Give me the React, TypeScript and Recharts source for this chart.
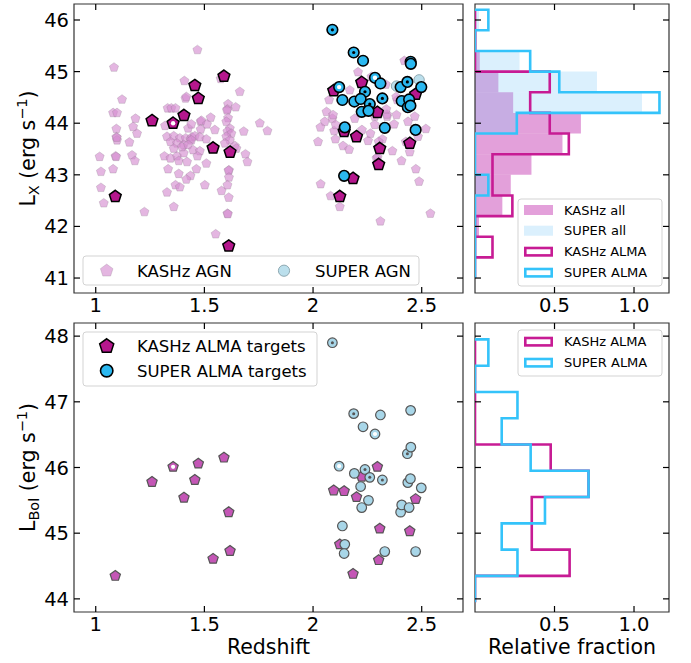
import React from "react";
import { ScatterChart, Scatter, XAxis, YAxis, ReferenceArea } from "recharts";

const FONT = "'DejaVu Sans', Verdana, sans-serif";
const INK = "#000";
const SPINE = "#333";

// axis ticks
const zTicks = [1, 1.5, 2, 2.5];
const lxTicks = [41, 42, 43, 44, 45, 46];
const lbolTicks = [44, 45, 46, 47, 48];
const fracTicks = [0.5, 1.0];

// KASHz AGN parent sample: [redshift, log LX]
const kashzAgn: [number, number][] = [
  [1.084, 45.08], [1.121, 44.46], [1.08, 44.2], [1.098, 44.2], [1.183, 44.09], [1.095, 43.89],
  [1.172, 43.93], [1.19, 43.8], [1.095, 43.73], [1.155, 43.63], [1.098, 43.67], [1.097, 43.72],
  [1.319, 43.95], [1.408, 44.82], [1.413, 44.48], [1.331, 44.29], [1.348, 44.29], [1.367, 44.29],
  [1.328, 43.74], [1.359, 43.75], [1.387, 43.71], [1.414, 43.71], [1.436, 43.69], [1.344, 43.64],
  [1.374, 43.61], [1.405, 43.58], [1.425, 43.9], [1.443, 43.73],
  [1.018, 43.35], [1.091, 43.36], [1.094, 43.35], [1.167, 43.38], [1.18, 43.27], [1.024, 43.06],
  [1.08, 43.11], [1.024, 42.75], [1.037, 42.45], [1.224, 42.28],
  [1.316, 43.36], [1.344, 43.32], [1.374, 43.36], [1.405, 43.42], [1.382, 43.27], [1.42, 43.25],
  [1.359, 43.51], [1.397, 43.54], [1.333, 43.11], [1.382, 43.02], [1.436, 42.98], [1.417, 42.91],
  [1.367, 42.8], [1.387, 42.76], [1.328, 42.66], [1.359, 42.38],
  [1.468, 45.42], [1.575, 44.86], [1.663, 44.61], [1.417, 44.51], [1.609, 44.37], [1.644, 44.31],
  [1.606, 44.27], [1.604, 44.25], [1.529, 44.11], [1.483, 44.03], [1.486, 44.05], [1.483, 43.88],
  [1.44, 43.98], [1.512, 43.98], [1.609, 44.1], [1.601, 44.03], [1.755, 44.0], [1.79, 43.85],
  [1.681, 43.84], [1.617, 43.9], [1.606, 43.84], [1.624, 43.8], [1.601, 43.74], [1.617, 43.67],
  [1.548, 43.87], [1.456, 43.75], [1.479, 43.73], [1.44, 43.67], [1.509, 43.69], [1.64, 43.56],
  [1.425, 43.58], [1.448, 43.48], [1.479, 43.46], [1.468, 43.36], [1.509, 43.22], [1.463, 43.11],
  [1.502, 42.8], [1.647, 43.51], [1.689, 43.4], [1.698, 43.25], [1.613, 43.09], [1.611, 43.08],
  [1.613, 42.95], [1.606, 42.8], [1.579, 42.69], [1.612, 42.56], [1.606, 42.25], [1.608, 42.24],
  [1.552, 41.85], [1.594, 43.61],
  [2.054, 44.03], [2.034, 43.92], [2.089, 44.09], [2.097, 43.85], [2.104, 43.97], [2.023, 43.64],
  [2.103, 43.69], [2.138, 43.56], [2.166, 43.49], [2.192, 44.09], [2.225, 43.87], [2.253, 43.66],
  [2.264, 43.8], [2.284, 43.97], [2.319, 43.69], [2.302, 43.64], [2.341, 44.13], [2.373, 43.98],
  [2.365, 43.46], [2.292, 43.32], [2.297, 43.34], [2.407, 43.27], [2.427, 43.64], [2.445, 43.44],
  [2.437, 44.03], [2.468, 44.13], [2.519, 43.89], [2.483, 43.74], [2.473, 43.11], [2.488, 42.87],
  [2.035, 42.82], [2.081, 42.59], [2.123, 42.38], [2.31, 42.1], [2.54, 42.25],
  [2.207, 44.99], [2.169, 44.64], [2.062, 44.22], [2.092, 44.16], [2.34, 44.17], [2.384, 44.16],
  [2.284, 44.13], [2.269, 44.9], [2.335, 44.75], [2.42, 45.21], [2.387, 44.45], [2.074, 44.45],
  [2.337, 44.27], [2.383, 44.51], [2.422, 44.45],
];

// SUPER AGN that are not ALMA targets: [redshift, log LX]
const superAgnOnly: [number, number][] = [[2.488, 44.84], [2.384, 44.72]];

// KASHz ALMA targets
const kashzAlmaZ = [1.09, 1.259, 1.356, 1.406, 1.456, 1.472, 1.54, 1.59, 1.612, 1.618, 2.095, 2.123, 2.143, 2.184, 2.2, 2.224, 2.296, 2.302, 2.307, 2.445, 2.472];
const kashzAlmaLx = [42.58, 44.05, 44.0, 44.15, 44.73, 44.48, 43.52, 44.91, 41.62, 43.44, 44.63, 42.58, 43.84, 42.93, 43.74, 44.79, 44.21, 43.2, 43.51, 43.61, 44.56];
const kashzAlmaLbol = [44.35, 45.78, 46.01, 45.54, 45.81, 46.06, 44.61, 46.15, 45.32, 44.73, 45.65, 44.83, 45.64, 44.38, 45.55, 45.86, 46.01, 44.59, 45.07, 45.03, 45.52];
const kashzAlmaDot = ["", "", "w", "", "", "", "", "", "", "", "", "", "", "", "", "", "", "", "", "", ""];

// SUPER ALMA targets
const superAlmaZ = [2.089, 2.187, 2.23, 2.285, 2.12, 2.31, 2.239, 2.135, 2.19, 2.219, 2.261, 2.319, 2.224, 2.255, 2.146, 2.33, 2.143, 2.403, 2.434, 2.449, 2.45, 2.408, 2.436, 2.442, 2.448, 2.498, 2.472];
const superAlmaLx = [45.81, 45.37, 45.21, 44.88, 44.7, 44.77, 44.61, 44.45, 44.42, 44.47, 44.37, 44.48, 44.22, 44.24, 43.92, 43.91, 42.98, 44.7, 44.8, 45.19, 45.15, 44.43, 44.31, 44.46, 44.34, 44.7, 43.87];
const superAlmaLbol = [47.9, 46.82, 46.62, 46.51, 46.02, 46.8, 45.97, 45.11, 45.91, 45.71, 45.85, 45.81, 45.39, 45.5, 44.83, 44.72, 44.69, 45.32, 46.21, 46.87, 46.31, 45.43, 45.77, 45.39, 45.83, 45.69, 44.72];
const superAlmaDot = ["b", "b", "", "w", "w", "", "b", "", "", "", "b", "b", "", "", "", "", "", "", "b", "", "", "", "", "", "", "", ""];

// histograms (density), LX bins
const lxEdges = [41.0, 41.4, 41.8, 42.2, 42.6, 43.0, 43.4, 43.8, 44.2, 44.6, 45.0, 45.4, 45.8, 46.2];
const lxKashzAll = [0, 0.012, 0.025, 0.172, 0.225, 0.355, 0.55, 0.666, 0.24, 0.147, 0.03, 0.012, 0];
const lxSuperAll = [0, 0, 0, 0, 0.084, 0, 0, 0.26, 1.05, 0.767, 0.28, 0, 0.025];
const lxKashzAlma = [0, 0.11, 0, 0.235, 0.11, 0.11, 0.59, 0.47, 0.347, 0.47, 0, 0, 0];
const lxSuperAlma = [0, 0, 0, 0, 0.084, 0, 0, 0.263, 1.16, 0.53, 0.347, 0, 0.084];

// LBol bins
const lbolEdges = [43.95, 44.35, 44.75, 45.15, 45.55, 45.95, 46.35, 46.75, 47.15, 47.55, 47.95];
const lbolKashzAlma = [0, 0.595, 0.357, 0.357, 0.714, 0.476, 0, 0, 0, 0];
const lbolSuperAlma = [0, 0.267, 0.168, 0.44, 0.714, 0.35, 0.168, 0.267, 0, 0.084];

// colours
const PINK = "#d68fd1";
const KASHZ_DARK = "#b5178d";
const SUPER_CYAN = "#2bb8f0";
const LIGHT_BLUE = "#b4dcea";
const KASHZ_LINE = "#c71b94";
const SUPER_LINE = "#34c3fa";
const KASHZ_FILL = "#b912a3";
const SUPER_FILL = "#87cefa";
const BOT_PENT = "#c456b6";
const BOT_CIRC = "#a8d6e8";

// domains
const Z_DOM: [number, number] = [0.9, 2.69];
const LX_DOM: [number, number] = [40.71, 46.31];
const LBOL_DOM: [number, number] = [43.8, 48.2];
const FRAC_DOM: [number, number] = [0, 1.22];

const pts = (xs: number[], ys: number[], dots: string[]) =>
  xs.map((x, i) => ({ x, y: ys[i], dot: dots[i] }));

const kashzAgnData = kashzAgn.map(([x, y]) => ({ x, y }));
const kashzAlmaTop = pts(kashzAlmaZ, kashzAlmaLx, kashzAlmaDot);
const kashzAlmaBot = pts(kashzAlmaZ, kashzAlmaLbol, kashzAlmaDot);
const superAlmaTop = pts(superAlmaZ, superAlmaLx, superAlmaDot);
const superAlmaBot = pts(superAlmaZ, superAlmaLbol, superAlmaDot);
const superAgnData = [...superAlmaTop, ...superAgnOnly.map(([x, y]) => ({ x, y, dot: "" }))];

// step outline of a horizontal histogram, as a polyline through bin corners
const stepOutline = (edges: number[], vals: number[]) => {
  const out = [{ x: 0, y: edges[0] }];
  vals.forEach((v, i) => {
    out.push({ x: v, y: edges[i] });
    out.push({ x: v, y: edges[i + 1] });
  });
  out.push({ x: 0, y: edges[edges.length - 1] });
  return out;
};

const bins = (edges: number[], vals: number[]) =>
  vals.map((v, i) => ({ lo: edges[i], hi: edges[i + 1], v })).filter((b) => b.v > 0);

const pentagon = (cx: number, cy: number, r: number) =>
  Array.from({ length: 5 }, (_, i) => {
    const a = -Math.PI / 2 + (i * 2 * Math.PI) / 5;
    return `${(cx + r * Math.cos(a)).toFixed(2)},${(cy + r * Math.sin(a)).toFixed(2)}`;
  }).join(" ");

const pentShape = (r: number, fill: string, stroke: string, sw: number, op = 1, sop = 1) => (p: any) => (
  <polygon points={pentagon(p.cx, p.cy, r)} fill={fill} fillOpacity={op} stroke={stroke} strokeWidth={sw} strokeOpacity={sop} />
);
const circShape = (r: number, fill: string, stroke: string, sw: number, op = 1) => (p: any) => (
  <circle cx={p.cx} cy={p.cy} r={r} fill={fill} fillOpacity={op} stroke={stroke} strokeWidth={sw} />
);
const noShape = () => <g />;

const zFmt = (v: number) => String(v);
const fracFmt = (v: number) => v.toFixed(1);

// inward ticks on both sides of the frame, labels outside
const xTick = (plotH: number, fmt: (v: number) => string) => (p: any) => (
  <g>
    <line x1={p.x} x2={p.x} y1={p.y} y2={p.y - 6} stroke={INK} strokeWidth={1.2} />
    <line x1={p.x} x2={p.x} y1={p.y - plotH} y2={p.y - plotH + 6} stroke={INK} strokeWidth={1.2} />
    <text x={p.x} y={p.y + 18.5} textAnchor="middle" fontSize={19.5} fill={INK} fontFamily={FONT}>
      {fmt(p.payload.value)}
    </text>
  </g>
);
const yTick = (plotW: number, labels: boolean) => (p: any) => (
  <g>
    <line x1={p.x} x2={p.x + 6} y1={p.y} y2={p.y} stroke={INK} strokeWidth={1.2} />
    <line x1={p.x + plotW} x2={p.x + plotW - 6} y1={p.y} y2={p.y} stroke={INK} strokeWidth={1.2} />
    {labels && (
      <text x={p.x - 5} y={p.y + 7} textAnchor="end" fontSize={19.5} fill={INK} fontFamily={FONT}>
        {p.payload.value}
      </text>
    )}
  </g>
);

const axisCommon = {
  type: "number" as const,
  allowDataOverflow: true,
  axisLine: false,
  tickLine: false,
  tickSize: 0,
  tickMargin: 0,
  interval: 0 as const,
};

// axis boxes: x axis 30px tall, y axis 60px wide
const XH = 30;
const YW = 60;

const Frame = ({ xd, yd }: { xd: [number, number]; yd: [number, number] }) => (
  <ReferenceArea x1={xd[0]} x2={xd[1]} y1={yd[0]} y2={yd[1]} fill="none" stroke={SPINE} strokeWidth={1.2} ifOverflow="visible" />
);

function TopScatter() {
  return (
    <ScatterChart width={470} height={330} margin={{ top: 4, right: 7, bottom: 37 - XH, left: 74 - YW }}>
      <XAxis {...axisCommon} dataKey="x" domain={Z_DOM} ticks={zTicks} height={XH} tick={xTick(289, zFmt)} />
      <YAxis {...axisCommon} dataKey="y" domain={LX_DOM} ticks={lxTicks} width={YW} tick={yTick(389, true)} />
      {Frame({ xd: Z_DOM, yd: LX_DOM })}
      <Scatter data={kashzAgnData} shape={pentShape(4.8, PINK, "#8a7a8a", 0.8, 0.65, 0.35)} isAnimationActive={false} />
      <Scatter data={superAgnData} shape={circShape(5.2, LIGHT_BLUE, "#8fa9b2", 1, 0.9)} isAnimationActive={false} />
      <Scatter data={kashzAlmaTop} shape={pentShape(6.2, KASHZ_DARK, "#000", 1.5)} isAnimationActive={false} />
      <Scatter data={superAlmaTop} shape={circShape(5.3, SUPER_CYAN, "#000", 1.6)} isAnimationActive={false} />
      <Scatter data={[...kashzAlmaTop, ...superAlmaTop].filter((d) => d.dot === "b")} shape={circShape(1.6, "#000", "none", 0)} isAnimationActive={false} />
      <Scatter data={[...kashzAlmaTop, ...superAlmaTop].filter((d) => d.dot === "w")} shape={circShape(2.2, "#fff", "none", 0)} isAnimationActive={false} />
    </ScatterChart>
  );
}

function BottomScatter() {
  return (
    <ScatterChart width={470} height={353} margin={{ top: 13, right: 7, bottom: 51 - XH, left: 74 - YW }}>
      <XAxis {...axisCommon} dataKey="x" domain={Z_DOM} ticks={zTicks} height={XH} tick={xTick(289, zFmt)} />
      <YAxis {...axisCommon} dataKey="y" domain={LBOL_DOM} ticks={lbolTicks} width={YW} tick={yTick(389, true)} />
      {Frame({ xd: Z_DOM, yd: LBOL_DOM })}
      <Scatter data={kashzAlmaBot} shape={pentShape(5.4, BOT_PENT, "#555", 1.2)} isAnimationActive={false} />
      <Scatter data={superAlmaBot} shape={circShape(4.8, BOT_CIRC, "#555", 1.2)} isAnimationActive={false} />
      <Scatter data={[...kashzAlmaBot, ...superAlmaBot].filter((d) => d.dot === "b")} shape={circShape(1.5, "#555", "none", 0)} isAnimationActive={false} />
      <Scatter data={[...kashzAlmaBot, ...superAlmaBot].filter((d) => d.dot === "w")} shape={circShape(2.1, "#fff", "none", 0)} isAnimationActive={false} />
    </ScatterChart>
  );
}

function TopHist() {
  return (
    <ScatterChart width={221} height={330} margin={{ top: 4, right: 22, bottom: 37 - XH, left: 0 }}>
      <XAxis {...axisCommon} dataKey="x" domain={FRAC_DOM} ticks={fracTicks} height={XH} tick={xTick(289, fracFmt)} />
      <YAxis {...axisCommon} dataKey="y" domain={LX_DOM} ticks={lxTicks} width={5} tick={yTick(194, false)} />
      {bins(lxEdges, lxKashzAll).map((b, i) => (
        <ReferenceArea key={`k${i}`} x1={0} x2={b.v} y1={b.lo} y2={b.hi} fill={KASHZ_FILL} fillOpacity={0.4} stroke="none" />
      ))}
      {bins(lxEdges, lxSuperAll).map((b, i) => (
        <ReferenceArea key={`s${i}`} x1={0} x2={b.v} y1={b.lo} y2={b.hi} fill={SUPER_FILL} fillOpacity={0.3} stroke="none" />
      ))}
      <Scatter data={stepOutline(lxEdges, lxKashzAlma)} line={{ stroke: KASHZ_LINE, strokeWidth: 2.6 }} shape={noShape} isAnimationActive={false} />
      <Scatter data={stepOutline(lxEdges, lxSuperAlma)} line={{ stroke: SUPER_LINE, strokeWidth: 2.6 }} shape={noShape} isAnimationActive={false} />
      {Frame({ xd: FRAC_DOM, yd: LX_DOM })}
    </ScatterChart>
  );
}

function BottomHist() {
  return (
    <ScatterChart width={221} height={353} margin={{ top: 13, right: 22, bottom: 51 - XH, left: 0 }}>
      <XAxis {...axisCommon} dataKey="x" domain={FRAC_DOM} ticks={fracTicks} height={XH} tick={xTick(289, fracFmt)} />
      <YAxis {...axisCommon} dataKey="y" domain={LBOL_DOM} ticks={lbolTicks} width={5} tick={yTick(194, false)} />
      <Scatter data={stepOutline(lbolEdges, lbolKashzAlma)} line={{ stroke: KASHZ_LINE, strokeWidth: 2.6 }} shape={noShape} isAnimationActive={false} />
      <Scatter data={stepOutline(lbolEdges, lbolSuperAlma)} line={{ stroke: SUPER_LINE, strokeWidth: 2.6 }} shape={noShape} isAnimationActive={false} />
      {Frame({ xd: FRAC_DOM, yd: LBOL_DOM })}
    </ScatterChart>
  );
}

const LegendBox = ({ x, y, w, h }: { x: number; y: number; w: number; h: number }) => (
  <rect x={x} y={y} width={w} height={h} rx={3} fill="#fff" fillOpacity={0.8} stroke="#d3d3d3" strokeWidth={1} />
);

export default function App() {
  return (
    <div style={{ position: "absolute", left: 0, top: 0, width: 691, height: 663, background: "#fff", fontFamily: FONT, overflow: "hidden" }}>
      <div style={{ position: "absolute", left: 0, top: 0 }}><TopScatter /></div>
      <div style={{ position: "absolute", left: 470, top: 0 }}><TopHist /></div>
      <div style={{ position: "absolute", left: 0, top: 310 }}><BottomScatter /></div>
      <div style={{ position: "absolute", left: 470, top: 310 }}><BottomHist /></div>

      <svg width={691} height={663} style={{ position: "absolute", left: 0, top: 0, pointerEvents: "none" }} fontFamily={FONT}>
        {/* axis titles */}
        <text transform="translate(35,148.5) rotate(-90)" textAnchor="middle" fontSize={20.5} fill={INK}>
          L<tspan fontSize={14.5} dy={4}>X</tspan>
          <tspan dy={-4}> (erg s</tspan>
          <tspan fontSize={14.5} dy={-8}>−1</tspan>
          <tspan dy={8}>)</tspan>
        </text>
        <text transform="translate(35,467.5) rotate(-90)" textAnchor="middle" fontSize={20.5} fill={INK}>
          L<tspan fontSize={14.5} dy={4}>Bol</tspan>
          <tspan dy={-4}> (erg s</tspan>
          <tspan fontSize={14.5} dy={-8}>−1</tspan>
          <tspan dy={8}>)</tspan>
        </text>
        <text x={268.5} y={654} textAnchor="middle" fontSize={20.5} fill={INK}>Redshift</text>
        <text x={572} y={654} textAnchor="middle" fontSize={20.5} fill={INK}>Relative fraction</text>

        {/* parent-sample legend */}
        <LegendBox x={83} y={256} w={336} h={29} />
        <polygon points={pentagon(106.7, 270.7, 6.6)} fill={PINK} fillOpacity={0.65} stroke="#8a7a8a" strokeOpacity={0.35} strokeWidth={0.8} />
        <text x={137} y={276.7} fontSize={16.5} fill={INK}>KASHz AGN</text>
        <circle cx={284} cy={270.7} r={5.6} fill={LIGHT_BLUE} fillOpacity={0.9} stroke="#8fa9b2" strokeWidth={1} />
        <text x={315} y={276.7} fontSize={16.5} fill={INK}>SUPER AGN</text>

        {/* ALMA targets legend */}
        <LegendBox x={83} y={332} w={234} h={54} />
        <polygon points={pentagon(106.7, 346.2, 7.4)} fill={KASHZ_DARK} stroke="#000" strokeWidth={1.5} />
        <text x={137} y={351.7} fontSize={16.5} fill={INK}>KASHz ALMA targets</text>
        <circle cx={106.7} cy={370.7} r={6.2} fill={SUPER_CYAN} stroke="#000" strokeWidth={1.6} />
        <text x={137} y={376.7} fontSize={16.5} fill={INK}>SUPER ALMA targets</text>

        {/* histogram legends */}
        <LegendBox x={518} y={199} w={144} h={87} />
        <rect x={524} y={205} width={29} height={10} fill={KASHZ_FILL} fillOpacity={0.4} />
        <text x={564} y={214.7} fontSize={13} fill={INK}>KASHz all</text>
        <rect x={524} y={225.7} width={29} height={10} fill={SUPER_FILL} fillOpacity={0.3} />
        <text x={564} y={235.4} fontSize={13} fill={INK}>SUPER all</text>
        <rect x={525.3} y={248} width={26.4} height={7.4} fill="none" stroke={KASHZ_LINE} strokeWidth={2.6} />
        <text x={564} y={256.4} fontSize={13} fill={INK}>KASHz ALMA</text>
        <rect x={525.3} y={269} width={26.4} height={7.4} fill="none" stroke={SUPER_LINE} strokeWidth={2.6} />
        <text x={564} y={277.4} fontSize={13} fill={INK}>SUPER ALMA</text>

        <LegendBox x={518} y={330} w={144} h={46} />
        <rect x={525.3} y={338} width={26.4} height={7.4} fill="none" stroke={KASHZ_LINE} strokeWidth={2.6} />
        <text x={564} y={346.4} fontSize={13} fill={INK}>KASHz ALMA</text>
        <rect x={525.3} y={359} width={26.4} height={7.4} fill="none" stroke={SUPER_LINE} strokeWidth={2.6} />
        <text x={564} y={367.4} fontSize={13} fill={INK}>SUPER ALMA</text>
      </svg>
    </div>
  );
}
